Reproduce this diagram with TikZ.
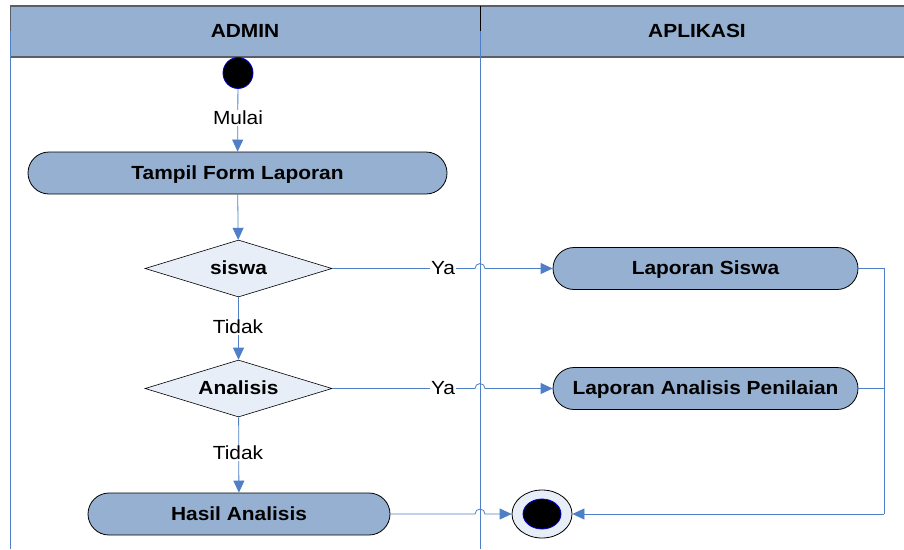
\documentclass[tikz,border=0pt]{standalone}
\usepackage{fontspec}
\setmainfont{Liberation Sans}[FakeStretch=1.1]
\usetikzlibrary{arrows.meta,shapes.geometric}
\definecolor{laneblue}{HTML}{95B0D0}
\definecolor{flow}{HTML}{4F7FC6}
\definecolor{actfill}{HTML}{95B0D0}
\definecolor{decfill}{HTML}{E8EEF8}
\definecolor{hdrline}{HTML}{5A5F66}
\begin{document}
\begin{tikzpicture}[x=1pt,y=-1pt,
  txt/.style={font=\fontsize{19}{22}\selectfont},
  action/.style={draw=black,fill=actfill,rounded corners=21pt,line width=0.8pt,
    minimum height=42pt,inner sep=0pt,text depth=1pt,font=\fontsize{19}{22}\selectfont\bfseries},
  decision/.style={draw=black,fill=decfill,diamond,aspect=3.3,line width=0.6pt,
    inner sep=0pt,minimum width=187pt,minimum height=57pt,text depth=1pt,font=\fontsize{19}{22}\selectfont\bfseries},
  flowline/.style={draw=flow,line width=0.8pt},
  arrowline/.style={flowline,-{Triangle[length=12pt,width=11pt]}},
  lbl/.style={fill=white,inner sep=1pt,txt},
]
\useasboundingbox (0,0) rectangle (904,549);

% swimlane header
\fill[laneblue] (10,6) rectangle (904,57);
\draw[hdrline,line width=1.2pt] (10,6) -- (904,6);
\draw[hdrline,line width=1.2pt] (10,57) -- (904,57);
\draw[hdrline,line width=0.8pt] (10,6) -- (10,31);
\draw[black,line width=0.8pt] (480,6) -- (480,31);
\draw[flow,line width=0.8pt] (10,31) -- (10,549);
\draw[flow,line width=0.8pt] (480,31) -- (480,549);
\node[txt,font=\fontsize{19}{22}\selectfont\bfseries] (hadmin) at (245,31) {ADMIN};
\node[txt,font=\fontsize{19}{22}\selectfont\bfseries] (happ) at (697,31) {APLIKASI};

% start node
\node[ellipse,draw=blue!80!black,fill=black,line width=0.8pt,
  minimum width=30pt,minimum height=31pt,inner sep=0pt] (start) at (238,73) {};

% actions and decisions
\node[action,minimum width=419pt] (form) at (237.5,173) {Tampil Form Laporan};
\node[decision] (siswa) at (238.5,268.5) {siswa};
\node[decision] (anal) at (238.5,388.5) {Analisis};
\node[action,minimum width=305pt] (lsiswa) at (705.5,268.5) {Laporan Siswa};
\node[action,minimum width=305pt] (lanal) at (705.5,388.5) {Laporan Analisis Penilaian};
\node[action,minimum width=302pt] (hasil) at (239,514) {Hasil Analisis};

% end node
\node[ellipse,draw=black,fill=decfill,line width=0.8pt,
  minimum width=60pt,minimum height=48pt,inner sep=0pt] (stop) at (542,514) {};
\node[ellipse,draw=blue!85!black,fill=black,line width=0.8pt,
  minimum width=38pt,minimum height=30pt,inner sep=0pt] (stopin) at (542,514) {};

% vertical flow
\draw[arrowline] (start) -- (form);
\node[lbl] (mulai) at (238,118) {Mulai};
\draw[arrowline] (form) -- (siswa);
\draw[arrowline] (siswa) -- (anal);
\node[lbl] (tidak1) at (238,327) {Tidak};
\draw[arrowline] (anal) -- (hasil);
\node[lbl] (tidak2) at (238,453) {Tidak};

% jump points where flows cross the lane divider
\coordinate (j1) at (475,268.5);
\coordinate (j2) at (475,388.5);
\coordinate (j3) at (475,514);

\draw[arrowline] (siswa.east) -- (j1) arc[start angle=180,end angle=360,radius=5] -- (lsiswa.west);
\node[lbl] (ya1) at (443,268.5) {Ya};
\draw[arrowline] (anal.east) -- (j2) arc[start angle=180,end angle=360,radius=5] -- (lanal.west);
\node[lbl] (ya2) at (443,388.5) {Ya};
\draw[arrowline] (hasil.east) -- (j3) arc[start angle=180,end angle=360,radius=5] -- (stop.west);

% merge into final node
\coordinate (mright) at (884,514);
\draw[flowline] (lsiswa.east) -- (lsiswa.east -| mright) -- (mright);
\draw[flowline] (lanal.east) -- (lanal.east -| mright);
\draw[arrowline] (mright) -- (stop.east);
\end{tikzpicture}
\end{document}
